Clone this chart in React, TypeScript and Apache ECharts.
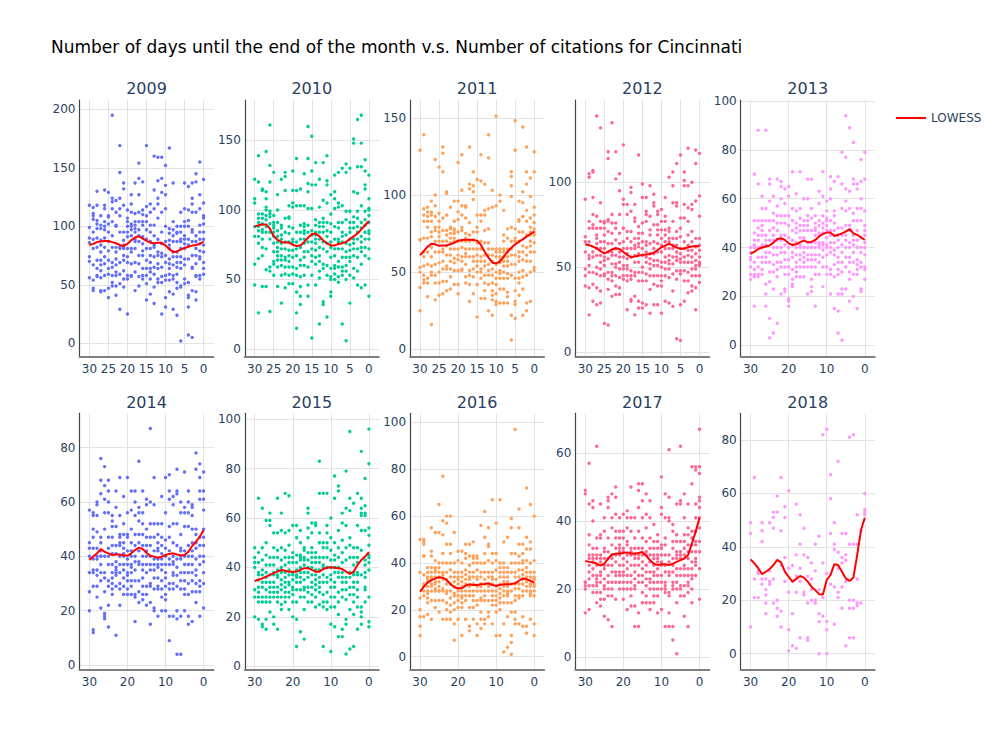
import React, { useEffect, useRef } from 'react';
import * as echarts from 'echarts';

// x values: number of days until the end of the month (left to right as drawn)
const DAYS = [30, 29, 28, 27, 26, 25, 24, 23, 22, 21, 20, 19, 18, 17, 16, 15, 14, 13, 12, 11, 10, 9, 8, 7, 6, 5, 4, 3, 2, 1, 0];

const YEARS = ['2009', '2010', '2011', '2012', '2013', '2014', '2015', '2016', '2017', '2018'];
const COLORS = ['#636efa', '#00cc96', '#FFA15A', '#FF6692', '#FF97FF', '#636efa', '#00cc96', '#FFA15A', '#FF6692', '#FF97FF'];

const Y_RANGES = [[-11.5, 208], [-5.5, 179], [-4.8, 161.5], [-2.6, 148.4], [-4.7, 100.4], [-1.8, 92.6], [-1.5, 102.4], [-5.7, 103.9], [-3.8, 71.7], [-6.1, 90]];
const Y_TICKS = [[0, 50, 100, 150, 200], [0, 50, 100, 150], [0, 50, 100, 150], [0, 50, 100], [0, 20, 40, 60, 80, 100], [0, 20, 40, 60, 80], [0, 20, 40, 60, 80, 100], [0, 20, 40, 60, 80, 100], [0, 20, 40, 60], [0, 20, 40, 60, 80]];
const X_TICKS_FINE = [30, 25, 20, 15, 10, 5, 0];
const X_TICKS_COARSE = [30, 20, 10, 0];
const X_TICKS = [X_TICKS_FINE, X_TICKS_FINE, X_TICKS_FINE, X_TICKS_FINE, X_TICKS_COARSE, X_TICKS_COARSE, X_TICKS_COARSE, X_TICKS_COARSE, X_TICKS_COARSE, X_TICKS_COARSE];

// citations per day, grouped by DAYS index
const cit2009 = [
  [118, 99, 90, 86, 74, 70, 56], [116, 111, 109, 106, 95, 89, 81, 67, 54, 47, 45], [130, 118, 105, 102, 98, 90, 82, 71, 64, 58, 57],
  [109, 101, 98, 84, 78, 71, 62, 56, 44, 45, 67, 88], [131, 118, 115, 104, 100, 97, 90, 82, 74, 68, 45, 58], [129, 109, 108, 102, 95, 87, 79, 71, 64, 59, 47, 39],
  [195, 124, 121, 115, 104, 92, 82, 69, 65, 58, 52, 49], [122, 112, 101, 100, 82, 72, 67, 58, 49, 41, 78, 61], [169, 146, 124, 115, 109, 95, 82, 81, 69, 59, 51, 29],
  [137, 132, 118, 95, 88, 81, 71, 62, 55, 48, 84, 75], [114, 107, 104, 100, 91, 74, 69, 58, 55, 25, 95, 81], [127, 119, 112, 102, 97, 92, 81, 68, 58, 57, 78, 100],
  [137, 111, 101, 98, 95, 89, 81, 69, 61, 45, 104, 87], [154, 141, 127, 112, 104, 97, 92, 87, 75, 68, 57, 49], [138, 114, 110, 104, 91, 85, 79, 64, 58, 55, 101, 75],
  [169, 117, 109, 104, 97, 89, 81, 71, 64, 58, 51, 37], [119, 112, 101, 95, 87, 81, 69, 64, 55, 42, 75, 61], [160, 131, 115, 101, 92, 82, 74, 65, 59, 48, 34, 84],
  [159, 139, 124, 119, 107, 89, 78, 68, 64, 55, 52, 75], [159, 141, 129, 112, 95, 85, 77, 74, 65, 57, 52, 25], [152, 135, 127, 115, 100, 87, 75, 69, 58, 54, 39, 31],
  [167, 98, 88, 81, 72, 64, 59, 54, 44, 94, 84, 68], [137, 104, 97, 87, 78, 67, 58, 55, 42, 29, 92, 74], [100, 95, 94, 87, 74, 65, 59, 52, 47, 24, 78, 69],
  [112, 100, 95, 87, 81, 74, 64, 49, 48, 2, 89, 69], [137, 115, 104, 100, 89, 81, 72, 55, 51, 92, 85, 67], [134, 114, 105, 100, 89, 72, 52, 41, 39, 31, 7, 84],
  [137, 124, 119, 112, 97, 95, 75, 65, 64, 45, 5, 87], [145, 138, 112, 92, 87, 75, 58, 57, 44, 37, 81, 68], [155, 127, 115, 101, 95, 85, 79, 72, 58, 55, 74, 89],
  [140, 120, 109, 107, 102, 95, 89, 78, 69, 64, 59, 84],
];
const cit2010 = [
  [122, 108, 105, 88, 81, 61, 46], [139, 120, 97, 91, 88, 76, 65, 26, 85, 94, 81], [115, 114, 97, 94, 90, 86, 84, 73, 67, 45, 79],
  [142, 113, 108, 100, 96, 93, 88, 72, 57, 45, 84, 102], [161, 132, 120, 99, 95, 90, 79, 59, 56, 27, 84, 97], [127, 96, 91, 87, 84, 76, 70, 63, 53, 61, 81, 89],
  [111, 100, 91, 85, 77, 70, 64, 59, 45, 73, 81, 67], [122, 89, 82, 76, 67, 60, 53, 33, 72, 87, 79, 64], [127, 124, 114, 94, 84, 77, 66, 64, 54, 44, 72, 59],
  [103, 95, 94, 83, 77, 71, 59, 53, 47, 88, 67, 63], [128, 114, 105, 102, 87, 71, 59, 54, 47, 77, 66, 79], [137, 114, 103, 84, 77, 58, 53, 41, 26, 15, 67, 72],
  [115, 103, 89, 84, 73, 64, 60, 52, 45, 38, 32, 79], [126, 103, 90, 85, 83, 76, 70, 60, 53, 66, 79, 88], [160, 137, 119, 113, 101, 84, 77, 70, 59, 46, 38, 89],
  [153, 128, 118, 101, 85, 72, 67, 53, 8, 82, 77, 63], [134, 118, 93, 89, 84, 76, 71, 61, 46, 82, 66, 79], [122, 102, 91, 84, 73, 67, 63, 51, 18, 79, 88, 56],
  [134, 107, 94, 91, 84, 72, 61, 58, 34, 32, 77, 88], [139, 121, 118, 105, 91, 81, 60, 53, 23, 76, 70, 85], [111, 97, 90, 84, 73, 66, 52, 50, 41, 38, 77, 58],
  [125, 113, 108, 101, 88, 79, 67, 60, 54, 50, 58, 72], [127, 105, 102, 91, 87, 79, 72, 63, 52, 48, 59, 77], [130, 103, 91, 84, 77, 66, 59, 53, 18, 72, 81, 56],
  [133, 127, 99, 93, 82, 70, 66, 60, 56, 50, 6, 76], [130, 99, 91, 87, 79, 75, 66, 63, 53, 33, 71, 84], [151, 148, 113, 95, 91, 87, 76, 67, 58, 51, 79, 72],
  [165, 131, 112, 99, 94, 88, 72, 66, 46, 79, 56, 84], [168, 148, 131, 103, 91, 87, 77, 73, 44, 61, 70, 81], [136, 128, 118, 115, 99, 93, 89, 79, 46, 67, 84, 73],
  [125, 108, 101, 100, 91, 85, 79, 65, 38, 96, 83, 72],
];
const cit2011 = [
  [129, 71, 71, 53, 50, 40, 25], [139, 91, 87, 63, 60, 48, 45, 43, 83, 72, 54], [89, 86, 83, 72, 55, 43, 34, 92, 63, 79, 46],
  [96, 89, 83, 73, 60, 54, 16, 76, 66, 48, 87, 50], [123, 100, 93, 86, 77, 63, 55, 43, 32, 70, 79, 48], [118, 88, 83, 76, 63, 56, 50, 43, 35, 70, 79, 73],
  [131, 127, 115, 85, 77, 70, 57, 52, 44, 36, 63, 65], [102, 101, 87, 77, 67, 61, 52, 44, 38, 74, 54, 70], [92, 79, 75, 69, 61, 52, 47, 39, 65, 57, 72, 78],
  [96, 83, 77, 72, 65, 56, 51, 42, 70, 59, 78, 75], [121, 96, 89, 84, 76, 61, 51, 42, 36, 70, 58, 65], [126, 103, 93, 87, 77, 66, 60, 52, 51, 70, 79, 57],
  [93, 92, 75, 70, 62, 60, 47, 43, 85, 65, 55, 72], [131, 107, 104, 74, 65, 60, 51, 42, 31, 70, 82, 48], [115, 106, 102, 97, 71, 60, 57, 47, 36, 65, 52, 76],
  [110, 79, 76, 61, 57, 50, 42, 21, 87, 69, 54, 65], [126, 109, 87, 83, 60, 57, 50, 46, 33, 70, 65, 52], [107, 90, 87, 77, 57, 48, 43, 38, 33, 61, 54, 69],
  [139, 124, 91, 78, 61, 55, 48, 42, 25, 65, 69, 51], [103, 92, 65, 61, 48, 43, 35, 32, 22, 57, 52, 38], [151, 93, 65, 60, 55, 46, 42, 31, 29, 63, 50, 36],
  [100, 96, 65, 63, 60, 51, 46, 39, 30, 56, 49, 58], [90, 74, 70, 65, 60, 54, 46, 39, 30, 57, 50, 63], [78, 65, 60, 54, 46, 37, 34, 30, 72, 63, 49, 57],
  [115, 112, 106, 99, 79, 70, 61, 48, 22, 6, 55, 65], [148, 129, 78, 72, 70, 61, 55, 38, 31, 29, 20, 46], [96, 84, 83, 70, 63, 57, 50, 43, 35, 60, 76, 46],
  [144, 102, 95, 86, 67, 58, 51, 39, 22, 76, 63, 47], [131, 115, 107, 90, 83, 74, 66, 57, 48, 30, 25, 61], [111, 99, 85, 79, 76, 70, 67, 50, 31, 63, 57, 74],
  [128, 115, 92, 87, 82, 76, 69, 63, 53, 51, 74, 78],
];
const cit2012 = [
  [90, 68, 65, 59, 49, 45, 39], [105, 103, 77, 57, 55, 47, 38, 22, 73, 65, 51], [107, 106, 91, 81, 75, 73, 59, 56, 47, 40, 30],
  [139, 80, 73, 69, 67, 57, 50, 46, 38, 28, 61, 64], [132, 88, 77, 73, 61, 53, 49, 45, 36, 29, 65, 57], [76, 73, 65, 56, 54, 46, 45, 17, 61, 51, 69, 77],
  [118, 114, 78, 77, 71, 64, 55, 43, 37, 16, 59, 47], [135, 81, 76, 64, 57, 52, 47, 42, 33, 70, 59, 45], [118, 102, 76, 73, 57, 52, 45, 39, 34, 66, 61, 50],
  [105, 95, 81, 70, 64, 56, 49, 44, 38, 34, 53, 59], [122, 90, 87, 73, 65, 56, 51, 45, 43, 61, 73, 49], [87, 81, 71, 61, 55, 51, 49, 45, 25, 67, 58, 42],
  [97, 94, 83, 71, 56, 48, 45, 43, 31, 30, 61, 65], [87, 79, 77, 67, 63, 57, 53, 47, 45, 33, 22, 61], [116, 74, 70, 67, 64, 62, 58, 53, 42, 30, 26, 47],
  [99, 91, 76, 70, 65, 57, 50, 47, 42, 29, 26, 61], [91, 83, 81, 77, 65, 59, 53, 46, 42, 28, 56, 63], [98, 80, 72, 58, 52, 45, 37, 23, 64, 49, 55, 69],
  [93, 88, 86, 75, 65, 58, 54, 45, 40, 28, 61, 51], [83, 81, 72, 69, 64, 54, 45, 39, 28, 59, 51, 75], [84, 77, 72, 67, 63, 53, 45, 39, 23, 59, 50, 42],
  [91, 80, 77, 69, 61, 56, 49, 45, 30, 65, 53, 72], [103, 71, 65, 61, 57, 49, 44, 29, 67, 54, 52, 73], [106, 98, 88, 77, 67, 61, 56, 46, 36, 27, 63, 52],
  [111, 88, 86, 67, 59, 54, 48, 43, 8, 63, 56, 71], [116, 79, 68, 58, 55, 48, 46, 28, 7, 61, 53, 73], [106, 101, 98, 87, 79, 61, 56, 48, 42, 30, 53, 65],
  [120, 98, 85, 77, 69, 63, 57, 47, 35, 53, 60, 42], [100, 87, 84, 71, 60, 56, 49, 45, 36, 53, 65, 39], [119, 111, 89, 67, 62, 54, 49, 45, 38, 25, 58, 51],
  [117, 92, 80, 60, 56, 53, 52, 51, 41, 63, 67, 45],
];
const cit2013 = [
  [40, 38, 35, 32, 29, 27, 36], [70, 51, 43, 41, 34, 29, 16, 46, 40, 31, 28], [88, 66, 48, 45, 40, 32, 29, 28, 43, 36, 51],
  [61, 56, 51, 49, 45, 40, 36, 31, 29, 41, 47, 34], [88, 56, 51, 45, 41, 38, 34, 25, 21, 16, 43, 36], [68, 66, 59, 51, 47, 43, 38, 30, 26, 11, 3, 34],
  [61, 54, 51, 48, 43, 37, 33, 30, 23, 5, 40, 45], [68, 57, 53, 47, 43, 37, 31, 28, 9, 40, 34, 50], [67, 65, 60, 53, 50, 45, 40, 21, 43, 38, 34, 32],
  [64, 58, 53, 50, 45, 38, 35, 32, 23, 22, 41, 29], [65, 61, 53, 49, 44, 40, 35, 29, 19, 18, 16, 32], [71, 56, 51, 47, 43, 38, 36, 27, 25, 24, 41, 31],
  [62, 55, 50, 46, 42, 40, 34, 30, 28, 37, 48, 32], [71, 56, 52, 47, 44, 40, 37, 32, 28, 41, 49, 35], [60, 51, 47, 44, 40, 38, 36, 32, 28, 43, 49, 34],
  [68, 60, 53, 51, 47, 42, 40, 37, 32, 21, 35, 49], [68, 56, 52, 47, 42, 37, 32, 27, 24, 22, 40, 35], [53, 50, 47, 42, 40, 37, 32, 29, 16, 45, 35, 48],
  [63, 58, 51, 46, 42, 40, 37, 34, 29, 45, 49, 41], [71, 61, 53, 50, 46, 42, 39, 36, 32, 24, 48, 41], [59, 55, 51, 47, 44, 41, 37, 32, 29, 40, 49, 52],
  [69, 64, 60, 51, 47, 42, 38, 31, 29, 21, 40, 45], [67, 55, 53, 47, 42, 39, 33, 28, 15, 37, 45, 50], [69, 48, 45, 40, 36, 34, 29, 21, 14, 5, 43, 31],
  [79, 66, 56, 48, 41, 34, 30, 23, 21, 2, 38, 45], [94, 77, 64, 59, 55, 49, 43, 36, 32, 23, 40, 45], [89, 63, 56, 49, 47, 42, 36, 34, 27, 18, 40, 30],
  [83, 68, 66, 54, 51, 45, 43, 38, 34, 20, 41, 29], [66, 64, 56, 51, 47, 40, 35, 33, 31, 15, 43, 29], [76, 67, 60, 56, 51, 44, 40, 38, 34, 23, 22, 32],
  [79, 68, 55, 49, 47, 42, 37, 32, 31, 27, 40, 45],
];
const cit2014 = [
  [57, 45, 43, 27, 20, 40, 34], [56, 55, 50, 47, 35, 29, 13, 12, 43, 39, 34], [60, 59, 55, 49, 43, 39, 33, 29, 25, 40, 35],
  [76, 68, 63, 47, 45, 42, 37, 34, 31, 21, 40, 40], [73, 66, 61, 56, 50, 34, 32, 27, 19, 18, 17, 40], [68, 64, 60, 56, 47, 43, 37, 31, 29, 22, 14, 40],
  [55, 53, 51, 47, 41, 37, 30, 28, 26, 34, 32, 44], [64, 58, 51, 44, 41, 36, 35, 34, 33, 11, 38, 29], [69, 55, 48, 47, 45, 40, 37, 34, 30, 22, 44, 28],
  [62, 52, 48, 45, 40, 37, 35, 29, 26, 43, 32, 41], [69, 56, 48, 42, 37, 34, 33, 31, 28, 26, 39, 47], [64, 57, 50, 40, 36, 34, 31, 29, 26, 42, 45, 37],
  [64, 60, 55, 48, 38, 35, 31, 26, 25, 16, 40, 44], [75, 58, 56, 53, 48, 45, 42, 37, 31, 27, 23, 38], [64, 56, 52, 48, 44, 40, 35, 32, 26, 24, 37, 29],
  [61, 59, 50, 47, 44, 37, 34, 29, 26, 22, 40, 42], [87, 60, 52, 47, 44, 37, 35, 30, 23, 15, 40, 29], [69, 59, 52, 47, 42, 39, 35, 32, 28, 21, 20, 37],
  [52, 48, 45, 43, 39, 36, 32, 29, 18, 28, 37, 42], [62, 52, 47, 44, 41, 39, 35, 31, 28, 25, 20, 37], [69, 56, 46, 43, 37, 34, 32, 29, 24, 20, 40, 26],
  [70, 64, 61, 51, 47, 42, 39, 37, 28, 18, 9, 30], [62, 59, 52, 45, 40, 37, 33, 30, 28, 18, 34, 38], [72, 64, 63, 52, 44, 39, 36, 29, 17, 4, 20, 33],
  [60, 56, 48, 43, 42, 39, 34, 31, 18, 4, 40, 28], [71, 58, 56, 51, 42, 37, 31, 28, 26, 20, 40, 34], [64, 60, 56, 51, 44, 40, 34, 26, 15, 18, 30, 37],
  [59, 58, 55, 50, 45, 40, 34, 27, 16, 42, 37, 31], [78, 72, 50, 48, 45, 43, 35, 33, 30, 27, 39, 23], [74, 69, 64, 61, 47, 44, 40, 31, 27, 18, 37, 29],
  [71, 64, 61, 57, 50, 47, 40, 38, 30, 21, 44, 34],
];
const cit2015 = [
  [48, 44, 42, 40, 31, 28, 20], [68, 46, 42, 38, 35, 30, 28, 26, 19, 37, 32], [64, 48, 43, 37, 32, 28, 26, 17, 16, 34, 39],
  [59, 50, 45, 41, 36, 34, 31, 28, 26, 19, 15, 38], [62, 59, 57, 41, 34, 30, 28, 22, 32, 37, 44, 26], [54, 48, 44, 41, 37, 34, 30, 28, 20, 17, 32, 38],
  [68, 54, 44, 39, 36, 32, 30, 28, 15, 37, 47, 26], [62, 55, 48, 40, 38, 35, 31, 25, 23, 43, 33, 28], [70, 54, 47, 41, 38, 36, 32, 28, 26, 34, 44, 30],
  [69, 55, 49, 44, 39, 37, 33, 30, 28, 23, 34, 42], [57, 46, 42, 38, 35, 32, 29, 26, 20, 37, 31, 44], [57, 52, 45, 39, 37, 34, 31, 26, 19, 8, 42, 36],
  [55, 50, 45, 44, 38, 36, 34, 31, 14, 43, 28, 40], [48, 47, 44, 41, 38, 35, 32, 28, 23, 11, 43, 31], [64, 62, 56, 52, 43, 40, 36, 32, 26, 30, 38, 46],
  [58, 54, 48, 44, 40, 37, 32, 29, 26, 42, 34, 46], [58, 57, 46, 42, 37, 33, 31, 24, 39, 35, 28, 44], [83, 70, 54, 50, 44, 39, 34, 30, 25, 42, 32, 36],
  [70, 50, 48, 44, 41, 37, 34, 29, 26, 8, 24, 40], [70, 57, 54, 50, 48, 44, 40, 34, 30, 26, 36, 23], [60, 52, 47, 43, 40, 35, 32, 28, 17, 6, 37, 24],
  [77, 68, 50, 45, 43, 34, 32, 28, 24, 16, 38, 40], [73, 71, 55, 48, 44, 40, 36, 30, 21, 12, 26, 38], [62, 58, 51, 46, 42, 38, 34, 28, 15, 12, 31, 36],
  [79, 64, 57, 48, 43, 36, 31, 27, 19, 17, 5, 34], [95, 68, 63, 52, 49, 44, 38, 32, 29, 23, 7, 36], [66, 48, 44, 38, 34, 32, 29, 21, 8, 41, 37, 26],
  [70, 57, 48, 44, 38, 34, 31, 28, 15, 42, 37, 24], [87, 68, 64, 62, 61, 55, 47, 37, 24, 22, 20, 17], [76, 65, 62, 61, 55, 41, 36, 32, 31, 26, 43, 38],
  [96, 82, 56, 53, 49, 45, 44, 42, 28, 18, 16, 39],
];
const cit2016 = [
  [50, 36, 25, 20, 17, 13, 9], [50, 49, 48, 43, 43, 31, 30, 28, 26, 17, 35], [38, 36, 34, 30, 28, 27, 25, 23, 18, 33, 32],
  [55, 45, 43, 38, 34, 31, 28, 24, 16, 36, 33, 30], [53, 41, 38, 36, 34, 29, 28, 24, 21, 32, 31, 37], [65, 53, 40, 36, 32, 28, 28, 24, 19, 34, 30, 38],
  [77, 58, 52, 44, 40, 36, 33, 28, 24, 16, 35, 29], [60, 57, 48, 40, 36, 31, 27, 23, 20, 16, 33, 28], [60, 48, 44, 40, 34, 28, 25, 22, 16, 37, 31, 19],
  [53, 40, 34, 30, 27, 23, 20, 14, 7, 32, 26, 36], [45, 41, 36, 33, 29, 26, 24, 21, 16, 31, 28, 34], [45, 40, 34, 30, 26, 23, 21, 9, 28, 32, 36, 25],
  [48, 44, 37, 33, 31, 28, 24, 16, 16, 35, 26, 42], [48, 43, 36, 33, 30, 26, 21, 13, 11, 28, 34, 39], [49, 43, 40, 36, 31, 28, 24, 21, 16, 34, 26, 42],
  [43, 40, 37, 33, 28, 24, 14, 9, 34, 30, 22, 42], [56, 40, 36, 34, 30, 25, 24, 19, 16, 12, 31, 28], [62, 51, 44, 40, 36, 33, 28, 24, 16, 14, 31, 26],
  [55, 48, 47, 41, 36, 31, 28, 24, 19, 17, 30, 34], [67, 44, 40, 36, 33, 28, 26, 22, 14, 31, 24, 34], [57, 44, 41, 37, 33, 30, 26, 24, 19, 9, 28, 22],
  [67, 40, 38, 34, 31, 27, 23, 20, 9, 29, 25, 36], [49, 40, 36, 32, 28, 26, 23, 14, 2, 34, 30, 38], [51, 38, 36, 32, 30, 27, 23, 17, 4, 34, 28, 26],
  [59, 55, 44, 36, 31, 23, 19, 9, 6, 1, 28, 40], [97, 44, 40, 36, 31, 26, 19, 16, 14, 29, 24, 34], [63, 55, 48, 43, 37, 31, 26, 25, 14, 34, 29, 40],
  [48, 44, 41, 37, 33, 31, 26, 17, 13, 28, 35, 40], [72, 51, 46, 41, 38, 32, 28, 13, 10, 34, 30, 36], [65, 49, 46, 40, 34, 30, 27, 26, 16, 36, 31, 28],
  [60, 41, 36, 34, 33, 31, 28, 26, 14, 9, 30, 33],
];
const cit2017 = [
  [49, 48, 22, 22, 21, 20, 13], [57, 45, 36, 30, 29, 27, 25, 23, 21, 14, 33], [46, 44, 40, 32, 30, 28, 24, 21, 19, 29, 26],
  [62, 35, 32, 30, 24, 22, 19, 16, 27, 23, 29, 21], [45, 36, 35, 30, 28, 25, 22, 19, 15, 29, 24, 17], [41, 37, 32, 29, 27, 26, 20, 17, 12, 23, 21, 31],
  [47, 46, 44, 35, 31, 27, 24, 22, 18, 11, 29, 20], [48, 41, 38, 33, 30, 29, 25, 22, 18, 9, 27, 20], [50, 47, 42, 37, 35, 32, 28, 25, 24, 17, 30, 22],
  [41, 37, 35, 32, 30, 27, 25, 22, 20, 31, 24, 33], [42, 37, 35, 32, 29, 27, 24, 20, 17, 31, 25, 22], [43, 41, 38, 34, 30, 28, 26, 22, 20, 14, 33, 24],
  [50, 41, 37, 32, 30, 27, 24, 22, 20, 15, 31, 18], [41, 35, 32, 30, 27, 25, 23, 20, 15, 9, 29, 21], [51, 49, 44, 37, 32, 30, 27, 24, 22, 13, 9, 29],
  [51, 46, 41, 35, 32, 30, 28, 24, 22, 19, 16, 26], [48, 42, 38, 34, 30, 27, 23, 21, 18, 16, 31, 25], [46, 41, 35, 30, 28, 25, 23, 20, 16, 14, 32, 22],
  [39, 34, 30, 29, 27, 24, 22, 20, 18, 16, 25, 32], [36, 34, 30, 29, 26, 24, 22, 18, 13, 28, 20, 32], [53, 44, 42, 33, 32, 30, 27, 22, 20, 14, 28, 24],
  [48, 41, 35, 30, 27, 22, 20, 19, 9, 25, 33, 21], [61, 47, 41, 40, 30, 28, 24, 19, 18, 13, 9, 25], [39, 37, 34, 32, 29, 25, 22, 20, 9, 5, 27, 21],
  [45, 36, 34, 31, 29, 26, 24, 22, 16, 1, 30, 20], [62, 46, 45, 34, 31, 29, 26, 24, 21, 20, 18, 30], [48, 41, 36, 32, 30, 27, 24, 21, 18, 12, 26, 34],
  [45, 36, 33, 31, 29, 24, 21, 19, 9, 26, 38, 22], [51, 56, 37, 35, 33, 31, 26, 24, 23, 20, 16, 28], [56, 55, 45, 41, 34, 29, 27, 24, 33, 31, 28, 37],
  [67, 56, 54, 47, 46, 44, 41, 34, 31, 26, 17, 38],
];
const cit2018 = [
  [49, 45, 10], [66, 28, 21], [31, 21, 30], [49, 46, 42, 28, 26], [28, 24, 22, 19, 15], [49, 31, 27, 26],
  [53, 51, 47, 28, 19], [59, 53, 20, 17, 14], [66, 46, 33, 16, 10], [55, 51, 36, 27], [61, 32, 23, 9, 1], [33, 27, 15, 3],
  [56, 37, 29, 23, 2], [52, 41, 32, 27, 6], [47, 37, 23, 22], [36, 29, 19, 6, 5], [34, 28, 20, 24], [41, 31, 20, 19],
  [44, 15, 12, 0, 24], [82, 34, 21, 14], [84, 30, 12, 9, 0], [67, 58, 45, 26], [49, 41, 39, 25, 11], [72, 38, 32, 23, 21],
  [45, 36, 34, 17, 25], [45, 37, 35, 27, 3], [81, 41, 20, 17, 6], [82, 41, 20, 17, 6], [52, 41, 28, 19, 18], [46, 19],
  [60, 54, 53, 52],
];

// LOWESS trend, one value per DAYS entry
const low2009 = [84, 85, 86.5, 87, 87.5, 87.5, 86.5, 85.5, 84, 83, 85, 88, 90.5, 91.5, 89.5, 87.5, 86, 85.5, 86, 86, 83.5, 80.5, 78, 78.5, 80, 81.5, 82.5, 83.5, 84, 85, 87];
const low2010 = [88, 89, 89.5, 89.5, 86.5, 81, 78.5, 77, 76.5, 76.5, 75, 74, 74.5, 77, 80, 82.5, 83, 81, 78, 76, 74.5, 74.5, 75.5, 76, 77, 79, 81, 83, 86, 89, 92];
const low2011 = [61, 63.7, 66.5, 68.4, 68, 67.1, 67.2, 67.3, 68, 69, 70.4, 70.8, 71, 71, 70.8, 70.4, 67.6, 63.2, 59.4, 56.1, 55.7, 56.8, 60, 63.2, 65.8, 68, 69.7, 71.2, 73, 74.7, 76.2];
const low2012 = [63.5, 63, 62.2, 61.2, 59.5, 58.2, 59.2, 60.5, 61.2, 60.8, 59, 57.3, 55.9, 56.3, 56.8, 57.3, 57.5, 57.8, 58.6, 60.2, 61.8, 62.7, 63.9, 62.7, 61.6, 60.8, 61, 61.8, 62.2, 62.5, 62.3];
const low2013 = [37.4, 38.3, 39.4, 40, 40.4, 40.8, 42, 43.5, 43.8, 43.1, 41.7, 41, 41.3, 42.2, 42.8, 42.2, 42.3, 43.1, 44.5, 45.6, 46.1, 46.1, 44.7, 45.2, 45.8, 46.5, 47.6, 45.8, 45.2, 44.2, 43.1];
const low2014 = [38.7, 39.9, 41.1, 42.7, 41.7, 41.1, 40.5, 40.7, 40.7, 40.4, 40.2, 41.1, 42.3, 43.2, 42.7, 41.3, 40.2, 39.9, 39.5, 39.9, 40.5, 40.9, 41.1, 40.7, 40.4, 40.5, 41.7, 43.8, 45.4, 47.2, 49.7];
const low2015 = [34.5, 35, 35.6, 36.3, 37, 37.7, 38.3, 39, 38.7, 38.3, 38.3, 38.3, 39, 39.7, 39.7, 39, 38.3, 38.3, 39.4, 39.9, 40.1, 39.9, 39.7, 39.4, 38.3, 37.4, 38.3, 41, 43, 44.4, 46.2];
const low2016 = [27.7, 29.9, 31.6, 32.7, 33.4, 33.9, 33.7, 32.7, 31, 29.6, 29.2, 29.2, 30.3, 30.9, 30.6, 30.6, 30.9, 31, 31.3, 30.6, 30.3, 30.6, 30.9, 30.9, 31, 31.3, 32.4, 33.4, 33.1, 32.4, 31.6];
const low2017 = [28.3, 28, 27.8, 27.5, 26.9, 27.5, 29, 30.2, 30.4, 30.5, 30.6, 30.8, 30.5, 30.5, 30.6, 30.9, 29.8, 28.5, 27.5, 27.1, 27.3, 27.3, 27.1, 27.5, 28, 28.5, 29, 30, 33.4, 36.9, 41];
const low2018 = [35.3, 33.8, 32, 29.8, 30.7, 31.7, 33.2, 35.1, 34.2, 30.7, 28.8, 27, 28, 29.1, 28.5, 27, 25.1, 23.8, 22.3, 22.2, 27.6, 29.5, 33.5, 33.2, 30.7, 28.2, 27.2, 28.5, 37, 46.3, 50.9];

const CITATIONS = [cit2009, cit2010, cit2011, cit2012, cit2013, cit2014, cit2015, cit2016, cit2017, cit2018];
const LOWESS = [low2009, low2010, low2011, low2012, low2013, low2014, low2015, low2016, low2017, low2018];

const TITLE = 'Number of days until the end of the month v.s. Number of citations for Cincinnati';
const FONT = '"DejaVu Sans", Verdana, sans-serif';
const TEXT_COLOR = '#2a3f5f';

function buildOption() {
  const grids: any[] = [];
  const xAxes: any[] = [];
  const yAxes: any[] = [];
  const series: any[] = [];
  const graphics: any[] = [];

  YEARS.forEach((year, i) => {
    const col = i % 5;
    const row = Math.floor(i / 5);
    const left = 79.5 + col * 165.3;
    const top = row === 0 ? 100 : 413.3;
    const width = 134;
    const height = 256.7;
    grids.push({ left, top, width, height, containLabel: false, outerBoundsMode: 'none' });

    xAxes.push({
      type: 'value', gridIndex: i, inverse: true, min: -2.6, max: 32.6,
      axisLine: { show: true, onZero: false, lineStyle: { color: '#808080', width: 2 } },
      axisTick: { show: false, customValues: X_TICKS[i] },
      axisLabel: { customValues: X_TICKS[i], color: TEXT_COLOR, fontSize: 12, fontFamily: FONT, margin: 6 },
      splitLine: { show: true, lineStyle: { color: '#e3e3e3', width: 1 } },
    });
    yAxes.push({
      type: 'value', gridIndex: i, min: Y_RANGES[i][0], max: Y_RANGES[i][1],
      axisLine: { show: true, onZero: false, lineStyle: { color: '#444444', width: 1.2 } },
      axisTick: { show: false, customValues: Y_TICKS[i] },
      axisLabel: { customValues: Y_TICKS[i], color: TEXT_COLOR, fontSize: 12, fontFamily: FONT, margin: 4 },
      splitLine: { show: true, lineStyle: { color: '#e3e3e3', width: 1 } },
    });

    const pts: number[][] = [];
    CITATIONS[i].forEach((vals, k) => {
      vals.forEach((v) => pts.push([DAYS[k], v]));
    });
    series.push({
      type: 'scatter', xAxisIndex: i, yAxisIndex: i, data: pts, symbolSize: 3.4,
      itemStyle: { color: COLORS[i], opacity: 1 }, silent: true, z: 2,
    });
    series.push({
      type: 'line', name: 'LOWESS', xAxisIndex: i, yAxisIndex: i,
      data: DAYS.map((d, k) => [d, LOWESS[i][k]]),
      showSymbol: false, symbol: 'none', smooth: false,
      lineStyle: { color: '#ff0000', width: 2 }, itemStyle: { color: '#ff0000' }, z: 3, silent: true,
    });

    graphics.push({
      type: 'text', x: left + width / 2, y: row === 0 ? 88.5 : 402.5,
      style: {
        text: year, fill: TEXT_COLOR, fontSize: 16, fontFamily: FONT,
        textAlign: 'center', textVerticalAlign: 'middle', align: 'center', verticalAlign: 'middle',
      },
    });
  });

  return {
    animation: false,
    backgroundColor: '#ffffff',
    title: {
      text: TITLE, left: 46, top: 33,
      textStyle: { fontSize: 17, fontWeight: 'normal', color: '#000000', fontFamily: FONT },
    },
    legend: {
      data: [{ name: 'LOWESS', icon: 'rect' }], left: 891, top: 107, itemWidth: 30, itemHeight: 2,
      selectedMode: false, textStyle: { color: TEXT_COLOR, fontSize: 12, fontFamily: FONT },
    },
    grid: grids, xAxis: xAxes, yAxis: yAxes, series, graphic: graphics,
  };
}

export default function App() {
  const ref = useRef<HTMLDivElement>(null);
  useEffect(() => {
    document.body.style.margin = '0';
    if (!ref.current) return;
    const chart = echarts.init(ref.current, null, { renderer: 'svg' });
    chart.setOption(buildOption() as any);
    return () => chart.dispose();
  }, []);
  return <div ref={ref} style={{ width: 1000, height: 750 }} />;
}
